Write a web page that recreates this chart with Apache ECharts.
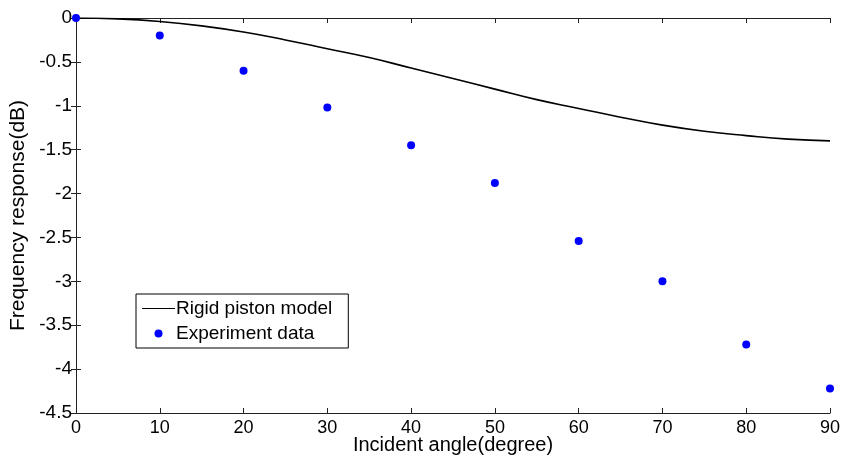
<!DOCTYPE html>
<html>
<head>
<meta charset="utf-8">
<script src="https://cdn.jsdelivr.net/npm/echarts@6/dist/echarts.min.js"></script>
<style>
  html, body { margin: 0; padding: 0; background: #fff; }
  #main { width: 845px; height: 459px; }
</style>
</head>
<body>
<div id="main"></div>
<script>
// rigid piston model curve (every 5 degrees)
var modelAngles = [0, 5, 10, 15, 20, 25, 30, 35, 40, 45, 50, 55, 60, 65, 70, 75, 80, 85, 90];
var modelValues = [0, -0.01, -0.04, -0.09, -0.16, -0.25, -0.35, -0.45, -0.57, -0.69, -0.81, -0.93, -1.03, -1.13, -1.22, -1.29, -1.34, -1.38, -1.40];

// measured points
var expAngles = [0, 10, 20, 30, 40, 50, 60, 70, 80, 90];
var expValues = [0, -0.2, -0.6, -1.02, -1.45, -1.88, -2.54, -3.0, -3.72, -4.22];

var font = 'Liberation Sans, Arial, sans-serif';
var axisColor = '#222';

function pairs(xs, ys) {
  return xs.map(function (x, i) { return [x, ys[i]]; });
}

var chart = echarts.init(document.getElementById('main'));
chart.setOption({
  animation: false,
  backgroundColor: '#fff',
  grid: { left: 76, right: 15, top: 18, bottom: 46, outerBoundsMode: 'none', containLabel: false },
  legend: {
    orient: 'vertical',
    left: 136,
    top: 294,
    padding: [5, 16, 5, 6],
    itemGap: 6,
    itemWidth: 33,
    itemHeight: 8,
    borderColor: '#000',
    borderWidth: 1,
    borderRadius: 0,
    backgroundColor: '#fff',
    textStyle: { fontFamily: font, fontSize: 19, color: '#000', padding: [0, 0, 0, -4] },
    data: [
      { name: 'Rigid piston model', icon: 'path://M0,3.4L33,3.4L33,4.6L0,4.6Z' },
      { name: 'Experiment data', icon: 'circle' }
    ]
  },
  xAxis: [{
    type: 'value',
    min: 0, max: 90, interval: 10,
    name: 'Incident angle(degree)',
    nameLocation: 'middle',
    nameGap: 22,
    nameMoveOverlap: false,
    nameTextStyle: { fontFamily: font, fontSize: 20, color: '#000' },
    axisLine: { show: true, onZero: false, lineStyle: { color: axisColor, width: 1 } },
    axisTick: { show: true, inside: true, length: 5, lineStyle: { color: axisColor } },
    axisLabel: { fontFamily: font, fontSize: 18, color: '#000', margin: 6 },
    splitLine: { show: false }
  }, {
    type: 'value', position: 'top',
    min: 0, max: 90, interval: 10,
    axisLine: { show: true, lineStyle: { color: axisColor, width: 1 } },
    axisTick: { show: true, inside: true, length: 5, lineStyle: { color: axisColor } },
    axisLabel: { show: false },
    splitLine: { show: false }
  }],
  yAxis: [{
    type: 'value',
    min: -4.5, max: 0, interval: 0.5,
    name: 'Frequency response(dB)',
    nameLocation: 'middle',
    nameGap: 47,
    nameMoveOverlap: false,
    nameTextStyle: { fontFamily: font, fontSize: 21, color: '#000' },
    axisLine: { show: true, onZero: false, lineStyle: { color: axisColor, width: 1 } },
    axisTick: { show: true, inside: true, length: 5, lineStyle: { color: axisColor } },
    axisLabel: { fontFamily: font, fontSize: 19, color: '#000', margin: 4 },
    splitLine: { show: false }
  }, {
    type: 'value', position: 'right',
    min: -4.5, max: 0, interval: 0.5,
    axisLine: { show: true, lineStyle: { color: axisColor, width: 1 } },
    axisTick: { show: true, inside: true, length: 5, lineStyle: { color: axisColor } },
    axisLabel: { show: false },
    splitLine: { show: false }
  }],
  series: [{
    name: 'Rigid piston model',
    type: 'line',
    smooth: true,
    symbol: 'none',
    color: '#000',
    lineStyle: { color: '#000', width: 1.6 },
    data: pairs(modelAngles, modelValues),
    z: 3
  }, {
    name: 'Experiment data',
    type: 'scatter',
    symbol: 'circle',
    symbolSize: 8,
    color: '#0000ff',
    itemStyle: { color: '#0000ff', opacity: 1 },
    data: pairs(expAngles, expValues),
    clip: false,
    z: 4
  }]
});
</script>
</body>
</html>
